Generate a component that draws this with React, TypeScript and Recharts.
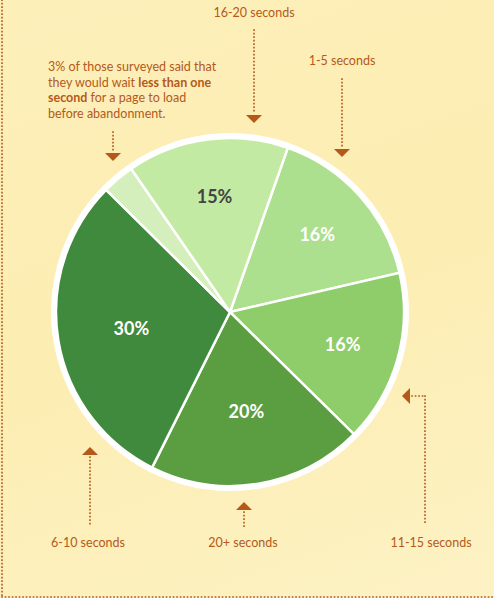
import { PieChart, Pie, Cell } from 'recharts'

// survey: how long people wait for a page to load, clockwise from the 1-5 s slice
const categories = ['1-5 seconds', '11-15 seconds', '20+ seconds', '6-10 seconds', 'less than one second', '16-20 seconds']
const shares = [16, 16, 20, 30, 3, 15]
const sliceColors = ['#ade08e', '#8ecd6a', '#5b9d41', '#3f8a3c', '#d4efbb', '#c3eaa3']
const labelColors = ['#ffffff', '#ffffff', '#ffffff', '#ffffff', '', '#444444']

const data = categories.map((name, i) => ({ name, value: shares[i] }))
const ring = [{ name: 'ring', value: 1 }]

const BROWN = '#b5591b'
const FONT = 'Lato, "Open Sans", sans-serif'
const RAD = Math.PI / 180

const renderLabel = (p: any) => {
  const { cx, cy, midAngle, index, value } = p
  if (!labelColors[index]) return null
  const r = index < 2 || index === 5 ? 117 : 100
  const x = cx + r * Math.cos(-midAngle * RAD)
  const y = cy + r * Math.sin(-midAngle * RAD)
  return (
    <text x={x} y={y} fill={labelColors[index]} textAnchor="middle" dominantBaseline="central"
      style={{ fontFamily: FONT, fontWeight: 700, fontSize: 18 }}>{value}%</text>
  )
}

const dot = { stroke: BROWN, strokeWidth: 1.6, strokeDasharray: '0.1 3.4', strokeLinecap: 'square' as const }
const txt = { fontFamily: FONT, fontSize: 12.5, fill: BROWN }

function Annotations() {
  return (
    <svg width={494} height={598} style={{ position: 'absolute', left: 0, top: 0, pointerEvents: 'none' }}>
      {/* page frame */}
      <line x1={2} y1={0} x2={2} y2={597} {...dot} />
      <line x1={2} y1={597} x2={494} y2={597} {...dot} />

      <text x={254} y={17} textAnchor="middle" {...txt}>16-20 seconds</text>
      <line x1={254} y1={30} x2={254} y2={114} {...dot} />
      <polygon points="246,115 262,115 254,123" fill={BROWN} />

      <text x={342} y={65} textAnchor="middle" {...txt}>1-5 seconds</text>
      <line x1={342} y1={79} x2={342} y2={148} {...dot} />
      <polygon points="334,149 350,149 342,157" fill={BROWN} />

      <text x={48} y={71} {...txt}>3% of those surveyed said that</text>
      <text x={48} y={87} {...txt}>they would wait <tspan fontWeight={700}>less than one</tspan></text>
      <text x={48} y={102} {...txt}><tspan fontWeight={700}>second</tspan> for a page to load</text>
      <text x={48} y={118} {...txt}>before abandonment.</text>
      <line x1={113} y1={132} x2={113} y2={152} {...dot} />
      <polygon points="105,153 121,153 113,161" fill={BROWN} />

      <polygon points="82,455 98,455 90,447" fill={BROWN} />
      <line x1={90} y1={457} x2={90} y2={527} {...dot} />
      <text x={88} y={547} textAnchor="middle" {...txt}>6-10 seconds</text>

      <polygon points="236,510 252,510 244,502" fill={BROWN} />
      <line x1={244} y1={512} x2={244} y2={528} {...dot} />
      <text x={243} y={547} textAnchor="middle" {...txt}>20+ seconds</text>

      <polygon points="402,396 410,388 410,404" fill={BROWN} />
      <line x1={412} y1={396} x2={425} y2={396} {...dot} />
      <line x1={425} y1={396} x2={425} y2={525} {...dot} />
      <text x={431} y={547} textAnchor="middle" {...txt}>11-15 seconds</text>
    </svg>
  )
}

export default function App() {
  return (
    <div style={{
      position: 'absolute', left: 0, top: 0, width: 494, height: 598, overflow: 'hidden',
      background: 'linear-gradient(160deg, #fdefb9 0%, #fcedb2 50%, #fdf2c4 100%)',
    }}>
      <PieChart width={494} height={598} margin={{ top: 0, right: 0, bottom: 0, left: 0 }}>
        <Pie data={ring} dataKey="value" cx={230} cy={312} outerRadius={179} startAngle={90} endAngle={-270}
          fill="#ffffff" stroke="none" isAnimationActive={false} />
        <Pie data={data} dataKey="value" cx={230} cy={312} outerRadius={174} startAngle={70.6} endAngle={-289.4}
          stroke="#ffffff" strokeWidth={2.5} label={renderLabel} labelLine={false} isAnimationActive={false}>
          {data.map((d, i) => <Cell key={d.name} fill={sliceColors[i]} />)}
        </Pie>
      </PieChart>
      <Annotations />
    </div>
  )
}
